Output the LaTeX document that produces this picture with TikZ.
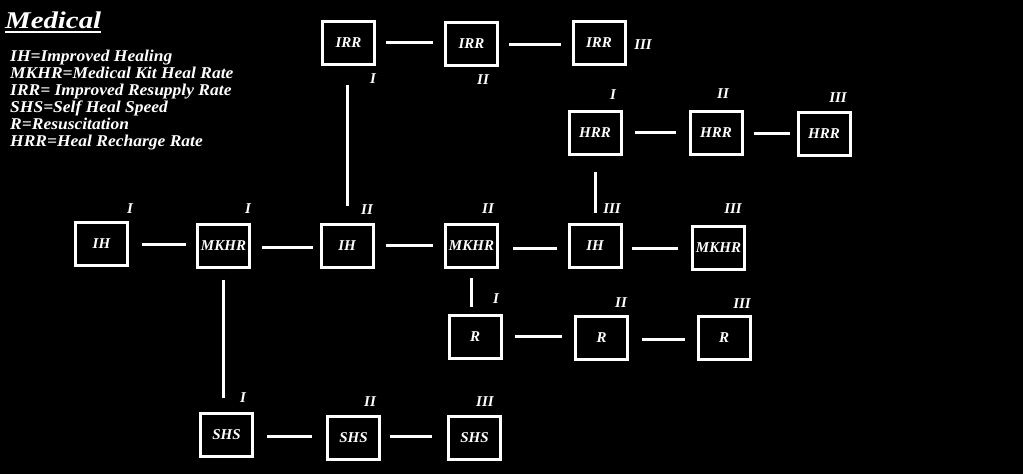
\documentclass[tikz,border=0pt]{standalone}
\usepackage{fontspec}
\setmainfont{Liberation Serif}
\usetikzlibrary{calc}
\newcommand{\wideR}[2]{\scalebox{#1}[1]{#2}}
\begin{document}
\begin{tikzpicture}[x=1pt,y=-1pt,
  box/.style={draw=white,line width=3pt,minimum width=52pt,minimum height=43pt,inner sep=0pt,
    text=white,font=\fontsize{15}{15}\selectfont\bfseries\itshape},
  lvl/.style={text=white,inner sep=0pt,font=\fontsize{15}{15}\selectfont\bfseries\itshape},
  conn/.style={draw=white,line width=3pt},
  legend/.style={text=white,inner sep=0pt,anchor=base west,font=\fontsize{16.5}{16.5}\selectfont\bfseries\itshape}]
\fill[black] (0,0) rectangle (1023,474);
\useasboundingbox (0,0) rectangle (1023,474);
% title and legend
\node[text=white,inner sep=0pt,anchor=base west,font=\fontsize{24}{24}\selectfont\bfseries\itshape] (title) at (5,28) {\wideR{1.2}{Medical}};
\draw[white,line width=1.5pt] ($(title.base west)+(0,4)$) -- ($(title.base east)+(0,4)$);
\node[legend] (l1) at (10,61) {\wideR{1.06}{IH=Improved Healing}};
\node[legend] (l2) at (10,78) {\wideR{1.06}{MKHR=Medical Kit Heal Rate}};
\node[legend] (l3) at (10,95) {\wideR{1.06}{IRR= Improved Resupply Rate}};
\node[legend] (l4) at (10,112) {\wideR{1.06}{SHS=Self Heal Speed}};
\node[legend] (l5) at (10,129) {\wideR{1.06}{R=Resuscitation}};
\node[legend] (l6) at (10,146) {\wideR{1.06}{HRR=Heal Recharge Rate}};
% boxes
\node[box] (IH1) at (101.5,244) {IH};
\node[box] (MKHR1) at (223.5,245.5) {MKHR};
\node[box] (IH2) at (347,245.5) {IH};
\node[box] (MKHR2) at (471.5,246) {MKHR};
\node[box] (IH3) at (595,246) {IH};
\node[box] (MKHR3) at (718.5,247.5) {MKHR};
\node[box] (IRR1) at (348.5,42.5) {IRR};
\node[box] (IRR2) at (471.5,44) {IRR};
\node[box] (IRR3) at (599,43) {IRR};
\node[box] (HRR1) at (595,132.5) {HRR};
\node[box] (HRR2) at (716,133) {HRR};
\node[box] (HRR3) at (824,133.5) {HRR};
\node[box] (R1) at (475,336.5) {R};
\node[box] (R2) at (601.5,337.5) {R};
\node[box] (R3) at (724,337.5) {R};
\node[box] (SHS1) at (226.5,434.5) {SHS};
\node[box] (SHS2) at (353.5,438) {SHS};
\node[box] (SHS3) at (474.5,438) {SHS};
% level labels
\node[lvl] (nIH1) at (130,209) {I};
\node[lvl] (nMKHR1) at (248,209) {I};
\node[lvl] (nIH2) at (367,210) {II};
\node[lvl] (nMKHR2) at (488,209) {II};
\node[lvl] (nIH3) at (612,209) {III};
\node[lvl] (nMKHR3) at (733,209) {III};
\node[lvl] (nIRR1) at (373,79) {I};
\node[lvl] (nIRR2) at (483,80) {II};
\node[lvl] (nIRR3) at (643,45) {III};
\node[lvl] (nHRR1) at (613,95) {I};
\node[lvl] (nHRR2) at (723,94) {II};
\node[lvl] (nHRR3) at (838,98) {III};
\node[lvl] (nR1) at (496,299) {I};
\node[lvl] (nR2) at (621,303) {II};
\node[lvl] (nR3) at (742,304) {III};
\node[lvl] (nSHS1) at (243,398) {I};
\node[lvl] (nSHS2) at (370,402) {II};
\node[lvl] (nSHS3) at (485,402) {III};
% connectors
\draw[conn,shorten <=13pt,shorten >=10pt] (IH1.east) -- (IH1.east -| MKHR1.west);
\draw[conn,shorten <=11pt,shorten >=7pt] ([yshift=-2pt]MKHR1.east) -- ([yshift=-2pt]MKHR1.east -| IH2.west);
\draw[conn,shorten <=11pt,shorten >=11pt] (IH2.east) -- (IH2.east -| MKHR2.west);
\draw[conn,shorten <=14pt,shorten >=11pt] ([yshift=-2pt]MKHR2.east) -- ([yshift=-2pt]MKHR2.east -| IH3.west);
\draw[conn,shorten <=9pt,shorten >=13pt] ([yshift=-2pt]IH3.east) -- ([yshift=-2pt]IH3.east -| MKHR3.west);
\draw[conn,shorten <=10pt,shorten >=11pt] (IRR1.east) -- (IRR1.east -| IRR2.west);
\draw[conn,shorten <=10pt,shorten >=11pt] (IRR2.east) -- (IRR2.east -| IRR3.west);
\draw[conn,shorten <=12pt,shorten >=13pt] (HRR1.east) -- (HRR1.east -| HRR2.west);
\draw[conn,shorten <=10pt,shorten >=7pt] (HRR2.east) -- (HRR2.east -| HRR3.west);
\draw[conn,shorten <=12pt,shorten >=12pt] (R1.east) -- (R1.east -| R2.west);
\draw[conn,shorten <=13pt,shorten >=12pt] ([yshift=-2pt]R2.east) -- ([yshift=-2pt]R2.east -| R3.west);
\draw[conn,shorten <=13pt,shorten >=14pt] ([yshift=-1.5pt]SHS1.east) -- ([yshift=-1.5pt]SHS1.east -| SHS2.west);
\draw[conn,shorten <=9pt,shorten >=15pt] ([yshift=1.5pt]SHS2.east) -- ([yshift=1.5pt]SHS2.east -| SHS3.west);
\draw[conn,shorten <=19pt,shorten >=17pt] (IH2.north |- IRR1.south) -- (IH2.north);
\draw[conn,shorten <=16pt,shorten >=10pt] (HRR1.south) -- (HRR1.south |- IH3.north);
\draw[conn,shorten <=9pt,shorten >=7pt] (MKHR2.south) -- (MKHR2.south |- R1.north);
\draw[conn,shorten <=11pt,shorten >=14pt] (MKHR1.south) -- (MKHR1.south |- SHS1.north);
\end{tikzpicture}
\end{document}
